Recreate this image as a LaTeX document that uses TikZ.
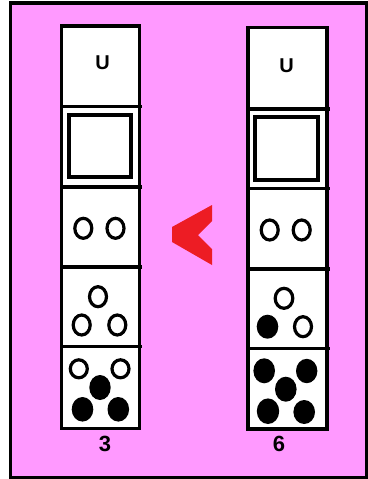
\documentclass[tikz,border=0pt]{standalone}
\usepackage{fontspec}
\setmainfont{Liberation Sans}
\usepackage{tikz}
\usetikzlibrary{positioning}

\definecolor{bgpink}{RGB}{255,153,255}
\definecolor{signred}{RGB}{237,28,36}

\begin{document}
\begin{tikzpicture}[x=0.75pt, y=-0.75pt,
  every node/.style={font=\bfseries},
  cell/.style={draw, line width=2.7pt, fill=white},
  rule/.style={line width=2.7pt},
  hole/.style={draw, line width=2.4pt, fill=white},
  pip/.style={fill=black},
  letter/.style={font=\bfseries\fontsize{15}{17}\selectfont},
  tally/.style={font=\bfseries\fontsize{16.5}{18}\selectfont}]
  \useasboundingbox (0,0) rectangle (368,479);
  \draw[fill=bgpink, line width=2.9pt] (10.5,3) rectangle (366.5,477.5);

  % left column
  \draw[cell] (61.5,26) rectangle (139.5,428.3);
  \draw[rule] (61.5,106.3) -- (142,106.3);
  \draw[rule] (61.5,187) -- (142,187);
  \draw[rule] (61.5,267) -- (142,267);
  \draw[rule] (61.5,346.3) -- (142,346.3);
  \node[letter] (uleft) at (102.7,63) {U};
  \draw[rule] (69,115) rectangle (130.7,176.7);
  \draw[hole] (83.3,228.3) ellipse [x radius=8.5, y radius=10];
  \draw[hole] (115.5,228.3) ellipse [x radius=8.5, y radius=10];
  \draw[hole] (98,296.7) ellipse [x radius=8.5, y radius=10];
  \draw[hole] (81.7,325) ellipse [x radius=8.5, y radius=10];
  \draw[hole] (117.3,325) ellipse [x radius=8.5, y radius=10];
  \draw[hole] (78.8,368.8) ellipse [x radius=8.5, y radius=9];
  \draw[hole] (120.5,368.8) ellipse [x radius=8.5, y radius=9];
  \fill[pip] (100,387.5) ellipse [x radius=10.7, y radius=12.5];
  \fill[pip] (82.5,409.3) ellipse [x radius=10.8, y radius=12.3];
  \fill[pip] (118.3,409.3) ellipse [x radius=10.8, y radius=12.3];
  \node[tally] (countleft) at (105,443.7) {3};

  % right column
  \draw[cell] (247.7,27.5) rectangle (326.7,429);
  \draw[rule] (247.7,108.7) -- (329.5,108.7);
  \draw[rule] (247.7,188.3) -- (329.5,188.3);
  \draw[rule] (247.7,269) -- (329.5,269);
  \draw[rule] (247.7,348.3) -- (329.5,348.3);
  \node[letter] (uright) at (286.7,65.8) {U};
  \draw[rule] (255,116.7) rectangle (317.7,180);
  \draw[hole] (269.7,230) ellipse [x radius=8.5, y radius=10];
  \draw[hole] (301.7,230) ellipse [x radius=8.5, y radius=10];
  \draw[hole] (284,298.3) ellipse [x radius=8.8, y radius=10];
  \fill[pip] (267.5,326.7) ellipse [x radius=10.8, y radius=12];
  \draw[hole] (303,326.7) ellipse [x radius=8.5, y radius=10];
  \fill[pip] (264.2,370.8) ellipse [x radius=10.8, y radius=12.5];
  \fill[pip] (306.7,371) ellipse [x radius=10.7, y radius=12.2];
  \fill[pip] (285.8,389.2) ellipse [x radius=10.8, y radius=12.5];
  \fill[pip] (268,411.2) ellipse [x radius=11.2, y radius=12.8];
  \fill[pip] (304.2,412) ellipse [x radius=10.8, y radius=12];
  \node[tally] (countright) at (279,444) {6};

  % red sign
  \fill[signred] (212,205) -- (212,221) -- (198,235) -- (212,249) -- (212,265)
    -- (172,242) -- (172,227) -- cycle;
\end{tikzpicture}
\end{document}
